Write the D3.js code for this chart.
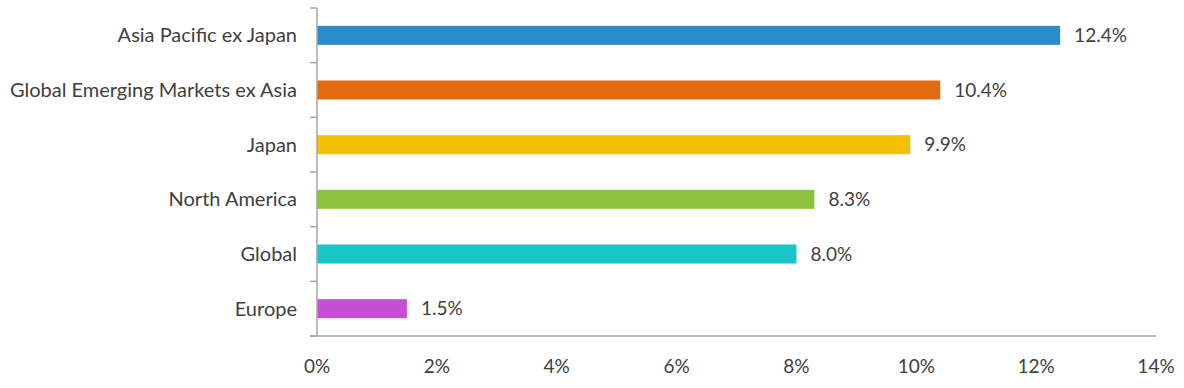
<!DOCTYPE html>
<html>
<head>
<meta charset="utf-8">
<script src="https://cdn.jsdelivr.net/npm/d3@7"></script>
<style>
  body { margin: 0; background: #fff; }
  text { font-family: Lato, "Open Sans", sans-serif; fill: #404040; }
</style>
</head>
<body>
<div id="chart"></div>
<script>
var regions = ["Asia Pacific ex Japan", "Global Emerging Markets ex Asia", "Japan", "North America", "Global", "Europe"];
var values = [12.4, 10.4, 9.9, 8.3, 8.0, 1.5];
var colors = ["#2a8ccb", "#e26b10", "#f5c000", "#8cc43f", "#17c6c6", "#c64fd6"];
var ticks = [0, 2, 4, 6, 8, 10, 12, 14];

var width = 1184, height = 388;
var margin = {top: 8, right: 28, bottom: 52, left: 317};

var svg = d3.select("#chart").append("svg")
    .attr("width", width)
    .attr("height", height);

var x = d3.scaleLinear()
    .domain([0, 14])
    .range([margin.left, width - margin.right]);

var y = d3.scaleBand()
    .domain(regions)
    .range([margin.top, height - margin.bottom]);

var barH = 19;
var axisColor = "#a6a6a6";

// bars
svg.append("g")
  .selectAll("rect")
  .data(regions)
  .enter().append("rect")
    .attr("x", x(0))
    .attr("y", function(d) { return y(d) + y.bandwidth() / 2 - barH / 2; })
    .attr("width", function(d, i) { return x(values[i]) - x(0); })
    .attr("height", barH)
    .attr("fill", function(d, i) { return colors[i]; });

// value labels
svg.append("g")
  .selectAll("text")
  .data(regions)
  .enter().append("text")
    .attr("x", function(d, i) { return x(values[i]) + 14; })
    .attr("y", function(d) { return y(d) + y.bandwidth() / 2; })
    .attr("dy", "0.35em")
    .style("font-size", "19px")
    .text(function(d, i) { return values[i].toFixed(1) + "%"; });

// y axis
var yAxis = svg.append("g");
yAxis.append("line")
    .attr("x1", x(0)).attr("x2", x(0))
    .attr("y1", margin.top).attr("y2", height - margin.bottom)
    .attr("stroke", axisColor).attr("stroke-width", 1.5);
yAxis.selectAll("line.tick")
  .data(d3.range(regions.length + 1))
  .enter().append("line")
    .attr("class", "tick")
    .attr("x1", x(0) - 7).attr("x2", x(0))
    .attr("y1", function(i) { return margin.top + i * y.step(); })
    .attr("y2", function(i) { return margin.top + i * y.step(); })
    .attr("stroke", axisColor).attr("stroke-width", 1.5);
yAxis.selectAll("text")
  .data(regions)
  .enter().append("text")
    .attr("x", x(0) - 20)
    .attr("y", function(d) { return y(d) + y.bandwidth() / 2; })
    .attr("dy", "0.35em")
    .attr("text-anchor", "end")
    .style("font-size", "20px")
    .text(function(d) { return d; });

// x axis
var xAxis = svg.append("g");
xAxis.append("line")
    .attr("x1", x(0) - 7).attr("x2", x(14))
    .attr("y1", height - margin.bottom).attr("y2", height - margin.bottom)
    .attr("stroke", axisColor).attr("stroke-width", 1.5);
xAxis.selectAll("text")
  .data(ticks)
  .enter().append("text")
    .attr("x", function(d) { return x(d); })
    .attr("y", height - margin.bottom + 30)
    .attr("dy", "0.35em")
    .attr("text-anchor", "middle")
    .style("font-size", "19px")
    .text(function(d) { return d + "%"; });
</script>
</body>
</html>
